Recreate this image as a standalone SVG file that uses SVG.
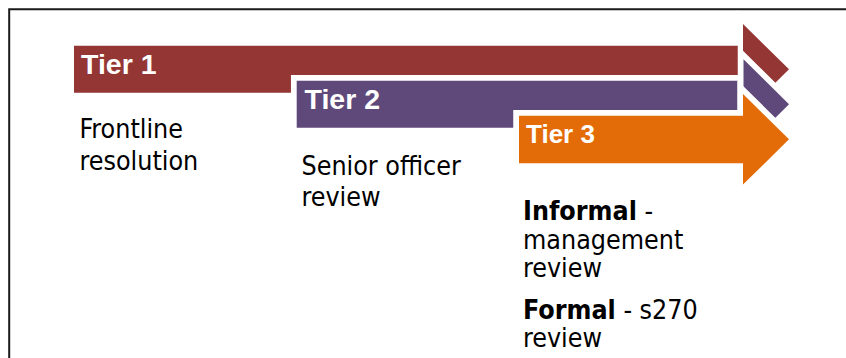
<svg xmlns="http://www.w3.org/2000/svg" width="846" height="358" viewBox="0 0 846 358">
  <style>
    .halo { fill: none; stroke: #ffffff; stroke-width: 11.5; stroke-linejoin: miter; }
    .t1 { fill: #943634; }
    .t2 { fill: #5F497A; }
    .t3 { fill: #E36C09; }
    .label { font-family: "Liberation Sans", Arial, sans-serif; font-weight: bold; fill: #ffffff; }
    .body { font-family: "DejaVu Sans Condensed", "Liberation Sans", sans-serif; font-size: 26.6px; fill: #000000; }
    .b { font-weight: bold; }
  </style>

  <rect x="0" y="0" width="846" height="358" fill="#ffffff"/>

  <!-- frame: left and top edges -->
  <path d="M9.2,358 V9.2 H846" fill="none" stroke="#1a1a1a" stroke-width="2"/>

  <!-- Tier 1 arrow -->
  <g id="tier1">
    <path class="halo" d="M74,45.7 H738 V92.7 H74 Z M743,24 L789,69.3 L743,114.6 Z"/>
    <path class="t1" d="M74,45.7 H738 V92.7 H74 Z M743,24 L789,69.3 L743,114.6 Z"/>
    <text class="label" x="81" y="74.3" font-size="28.5">Tier 1</text>
  </g>

  <!-- Tier 2 arrow -->
  <g id="tier2">
    <path class="halo" d="M296.7,80.7 H738 V127.7 H296.7 Z M743.5,59.3 L789,104.3 L743.5,149.3 Z"/>
    <path class="t2" d="M296.7,80.7 H738 V127.7 H296.7 Z M743.5,59.3 L789,104.3 L743.5,149.3 Z"/>
    <text class="label" x="304.5" y="109.4" font-size="28.5">Tier 2</text>
  </g>

  <!-- Tier 3 arrow -->
  <g id="tier3">
    <path class="halo" d="M519,115.7 H743 V94 L789,139.3 L743,184.6 V163.2 H519 Z"/>
    <path class="t3" d="M519,115.7 H743 V94 L789,139.3 L743,184.6 V163.2 H519 Z"/>
    <text class="label" x="526" y="142.5" font-size="26">Tier 3</text>
  </g>

  <!-- descriptions under each tier -->
  <g id="desc1">
    <text class="body" x="79.5" y="138">Frontline</text>
    <text class="body" x="79.5" y="170">resolution</text>
  </g>
  <g id="desc2">
    <text class="body" x="301.5" y="174.5">Senior officer</text>
    <text class="body" x="301.5" y="205.5">review</text>
  </g>
  <g id="desc3">
    <text class="body" x="523" y="219.5"><tspan class="b">Informal</tspan> -</text>
    <text class="body" x="523" y="248.5">management</text>
    <text class="body" x="523" y="277">review</text>
    <text class="body" x="523" y="318.5"><tspan class="b">Formal</tspan> - s270</text>
    <text class="body" x="523" y="347">review</text>
  </g>
</svg>
